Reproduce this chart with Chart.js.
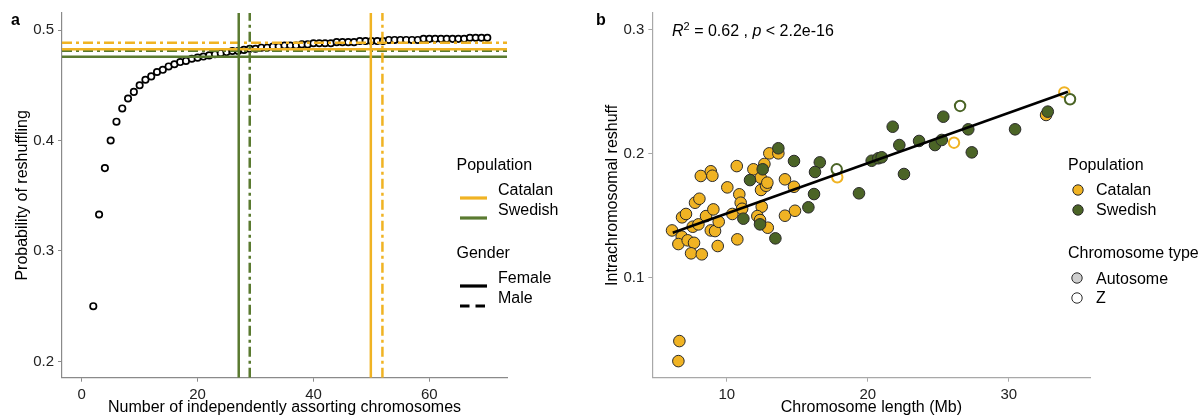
<!DOCTYPE html>
<html>
<head>
<meta charset="utf-8">
<script src="https://cdn.jsdelivr.net/npm/chart.js@4.4.1/dist/chart.umd.min.js"></script>
<style>
  body { margin: 0; background: #fff; font-family: "Liberation Sans", Arial, sans-serif; }
  #wrap { position: relative; width: 1201px; height: 416px; overflow: hidden; }
  canvas { position: absolute; top: 0; }
  .lbl { position: absolute; font-size: 16px; line-height: 20px; color: #000; white-space: nowrap; }
  .tag { font-weight: bold; }
  .key { position: absolute; }
</style>
</head>
<body>
<div id="wrap">
  <canvas id="chartA" width="600" height="416" style="left:0"></canvas>
  <canvas id="chartB" width="601" height="416" style="left:600px"></canvas>
  <div class="lbl tag" style="left:11px;top:10px">a</div>
  <div class="lbl tag" style="left:596px;top:10px">b</div>
  <div class="lbl" style="left:672px;top:21px"><i>R</i><span style="position:relative;top:-6px;font-size:11px">2</span> = 0.62 , <i>p</i> &lt; 2.2e-16</div>
</div>
<script>
// ---- panel a data ----
const chromNum = [2, 3, 4, 5, 6, 7, 8, 9, 10, 11, 12, 13, 14, 15, 16, 17, 18, 19, 20, 21, 22, 23, 24, 25,
  26, 27, 28, 29, 30, 31, 32, 33, 34, 35, 36, 37, 38, 39, 40, 41, 42, 43, 44, 45, 46, 47, 48,
  49, 50, 51, 52, 53, 54, 55, 56, 57, 58, 59, 60, 61, 62, 63, 64, 65, 66, 67, 68, 69, 70];
const reshuffleProb = [0.250, 0.333, 0.375, 0.400, 0.417, 0.429, 0.438, 0.444, 0.450, 0.455, 0.458,
  0.462, 0.464, 0.467, 0.469, 0.471, 0.472, 0.474, 0.475, 0.476, 0.477, 0.478, 0.479, 0.480,
  0.481, 0.481, 0.482, 0.483, 0.483, 0.484, 0.484, 0.485, 0.485, 0.486, 0.486, 0.486, 0.487,
  0.487, 0.488, 0.488, 0.488, 0.488, 0.489, 0.489, 0.489, 0.489, 0.490, 0.490, 0.490, 0.490,
  0.490, 0.491, 0.491, 0.491, 0.491, 0.491, 0.491, 0.492, 0.492, 0.492, 0.492, 0.492, 0.492,
  0.492, 0.492, 0.493, 0.493, 0.493, 0.493];

const populations = ['Catalan', 'Swedish'];
const genders = ['Female', 'Male'];
const effChromFemale = [49.9, 27.1];   // Catalan, Swedish
const effChromMale = [51.9, 29.0];
const probFemale = [0.4825, 0.4758];
const probMale = [0.4885, 0.4813];

const xTicksA = [0, 20, 40, 60];
const yTicksA = [0.2, 0.3, 0.4, 0.5];

// ---- panel b data ----
const catalanLen = [6.12, 6.81, 6.57, 7.23, 7.68, 7.47, 8.23, 6.83, 7.11, 7.75, 8.06, 8.16, 8.87, 8.98,
  7.59, 7.99, 8.53, 9.05, 8.87, 9.17, 9.43, 9.36, 10.04, 10.71, 10.40, 10.75, 10.89, 10.99, 11.09,
  11.89, 12.41, 12.43, 12.67, 12.79, 12.88, 13.02, 13.66, 12.48, 12.17, 12.36, 12.91, 14.13, 14.77,
  14.13, 14.84, 6.64, 6.57, 32.65];
const catalanReshuff = [0.138, 0.133, 0.127, 0.130, 0.128, 0.1195, 0.1187, 0.1486, 0.1513, 0.1604,
  0.1636, 0.182, 0.1858, 0.1822, 0.141, 0.1429, 0.1496, 0.155, 0.138, 0.1375, 0.145, 0.1254, 0.1728,
  0.190, 0.1513, 0.1308, 0.1672, 0.1604, 0.1555, 0.1874, 0.1806, 0.1707, 0.1917, 0.1741, 0.1766,
  0.2003, 0.2003, 0.1572, 0.1496, 0.1464, 0.1402, 0.1793, 0.1733, 0.1499, 0.1539, 0.0486, 0.0324,
  0.2313];
const swedishLen = [13.66, 12.55, 11.65, 11.18, 12.36, 13.45, 14.77, 16.60, 16.26, 16.19, 15.79,
  19.38, 20.28, 20.75, 20.99, 21.77, 22.24, 22.57, 23.64, 24.77, 25.25, 25.36, 27.13, 27.38, 30.45,
  32.77];
const swedishReshuff = [0.2044, 0.1874, 0.1787, 0.1475, 0.1429, 0.1316, 0.1941, 0.193, 0.1852,
  0.1674, 0.1567, 0.168, 0.1943, 0.1963, 0.1971, 0.2218, 0.207, 0.1836, 0.2103, 0.207, 0.2111,
  0.2299, 0.2197, 0.2011, 0.2197, 0.234];
const catalanZLen = [17.84, 26.12, 33.94];
const catalanZReshuff = [0.1809, 0.2089, 0.2496];
const swedishZLen = [17.80, 26.55, 34.35];
const swedishZReshuff = [0.1874, 0.2386, 0.244];
const fitLen = [6.17, 34.2];
const fitReshuff = [0.1361, 0.2501];
const chromTypes = ['Autosome', 'Z'];

const xTicksB = [10, 20, 30];
const yTicksB = [0.1, 0.2, 0.3];

const ORANGE = '#F0B323';
const GREEN_LINE = '#5A7A30';
const GREEN = '#4B6426';
const popLineColors = [ORANGE, GREEN_LINE];
const popFill = [ORANGE, GREEN];

Chart.defaults.font.family = '"Liberation Sans", Arial, sans-serif';
Chart.defaults.color = '#222';

function toPoints(xs, ys) {
  return xs.map((x, i) => ({ x: x, y: ys[i] }));
}

function axis(min, max, ticks, fmt, title, titlePad, fixedSize, isX, lineColor) {
  return {
    type: 'linear',
    min: min,
    max: max,
    afterBuildTicks: s => { s.ticks = ticks.map(v => ({ value: v })); },
    afterFit: s => { if (isX) s.height = fixedSize; else s.width = fixedSize; },
    ticks: { callback: fmt, font: { size: 15 }, padding: 4, maxRotation: 0, autoSkip: false, color: '#222' },
    grid: { drawOnChartArea: false, drawTicks: true, tickLength: 4, color: lineColor },
    border: { display: true, color: lineColor, width: 1.2 },
    title: { display: true, text: title, color: '#000', font: { size: 16, lineHeight: isX ? 1 : 1.2 }, padding: titlePad }
  };
}

const yMinA = 0.1853, yMaxA = 0.5154, xMinA = -3.4, xMaxA = 73.4;

// reference lines for panel a
const refLines = [];
populations.forEach((pop, i) => {
  refLines.push({ type: 'line', data: toPoints([xMinA, xMaxA], [probFemale[i], probFemale[i]]), borderColor: popLineColors[i], borderWidth: 2.5, pointRadius: 0, order: 2 });
  refLines.push({ type: 'line', data: toPoints([xMinA, xMaxA], [probMale[i], probMale[i]]), borderColor: popLineColors[i], borderWidth: 2.5, borderDash: [10, 4, 3, 4], pointRadius: 0, order: 2 });
  refLines.push({ type: 'line', data: toPoints([effChromFemale[i], effChromFemale[i]], [yMinA, yMaxA]), borderColor: popLineColors[i], borderWidth: 2.5, pointRadius: 0, order: 1 });
  refLines.push({ type: 'line', data: toPoints([effChromMale[i], effChromMale[i]], [yMinA, yMaxA]), borderColor: popLineColors[i], borderWidth: 2.5, borderDash: [10, 4, 3, 4], pointRadius: 0, order: 1 });
});

new Chart(document.getElementById('chartA'), {
  type: 'scatter',
  data: {
    datasets: [{
      data: toPoints(chromNum, reshuffleProb),
      pointRadius: 3.2,
      borderWidth: 1.7,
      borderColor: '#000',
      backgroundColor: '#fff',
      order: 3
    }].concat(refLines)
  },
  options: {
    responsive: false,
    animation: false,
    layout: { padding: { top: 13, right: 93, left: 0, bottom: 0 } },
    plugins: { legend: { display: false }, tooltip: { enabled: false } },
    scales: {
      x: axis(xMinA, xMaxA, xTicksA, v => String(v), 'Number of independently assorting chromosomes', { top: 0, bottom: 0 }, 38.3, true, '#8a8a8a'),
      y: axis(yMinA, yMaxA, yTicksA, v => v.toFixed(1), 'Probability of reshuffling', { top: 12.5, bottom: 0 }, 62, false, '#8a8a8a')
    }
  }
});

new Chart(document.getElementById('chartB'), {
  type: 'scatter',
  data: {
    datasets: [
      { data: toPoints(fitLen, fitReshuff), type: 'line', borderColor: '#000', borderWidth: 2.5, pointRadius: 0, order: 0 },
      { data: toPoints(swedishZLen, swedishZReshuff), pointRadius: 5.2, borderWidth: 2, borderColor: GREEN, backgroundColor: '#fff', order: 1 },
      { data: toPoints(catalanZLen, catalanZReshuff), pointRadius: 5.2, borderWidth: 2, borderColor: ORANGE, backgroundColor: '#fff', order: 2 },
      { data: toPoints(swedishLen, swedishReshuff), pointRadius: 5.8, borderWidth: 1, borderColor: '#2a2a2a', backgroundColor: GREEN, order: 3 },
      { data: toPoints(catalanLen, catalanReshuff), pointRadius: 5.8, borderWidth: 1, borderColor: '#2a2a2a', backgroundColor: ORANGE, order: 4 }
    ]
  },
  options: {
    responsive: false,
    animation: false,
    layout: { padding: { top: 13, right: 110.5, left: 0, bottom: 0 } },
    plugins: { legend: { display: false }, tooltip: { enabled: false } },
    scales: {
      x: axis(4.72, 35.8, xTicksB, v => String(v), 'Chromosome length (Mb)', { top: 0, bottom: 0 }, 38.3, true, '#a8a8a8'),
      y: axis(0.019, 0.3137, yTicksB, v => v.toFixed(1), 'Intrachromosomal reshuff', { top: 3, bottom: 0 }, 52.3, false, '#a8a8a8')
    }
  }
});

// ---- legends (html) ----
const wrap = document.getElementById('wrap');

function addText(text, left, centerY) {
  const d = document.createElement('div');
  d.className = 'lbl';
  d.style.left = left + 'px';
  d.style.top = (centerY - 10) + 'px';
  d.textContent = text;
  wrap.appendChild(d);
}

function addKey(svgInner, left, centerY, w, h) {
  const d = document.createElement('div');
  d.className = 'key';
  d.style.left = left + 'px';
  d.style.top = (centerY - h / 2) + 'px';
  d.innerHTML = '<svg width="' + w + '" height="' + h + '">' + svgInner + '</svg>';
  wrap.appendChild(d);
}

function lineKey(color, dash) {
  return '<line x1="0" y1="3" x2="27" y2="3" stroke="' + color + '" stroke-width="3.2"' +
    (dash ? ' stroke-dasharray="' + dash + '"' : '') + '/>';
}

function circleKey(fill, stroke) {
  return '<circle cx="7" cy="7" r="5.2" fill="' + fill + '" stroke="' + stroke + '" stroke-width="1"/>';
}

// panel a legend
addText('Population', 456.5, 165);
populations.forEach((p, i) => {
  addKey(lineKey(popLineColors[i], null), 460, 190 + i * 20, 28, 6);
  addText(p, 498, 189.5 + i * 20);
});
addText('Gender', 456.5, 252.5);
genders.forEach((g, i) => {
  addKey(lineKey('#000', i === 0 ? null : '9.5,6'), 460, 277.5 + i * 20, 28, 6);
  addText(g, 498, 278 + i * 20);
});

// panel b legend
addText('Population', 1068, 164.5);
populations.forEach((p, i) => {
  addKey(circleKey(popFill[i], '#2a2a2a'), 1071, 189.5 + i * 20, 14, 14);
  addText(p, 1096, 189.5 + i * 20);
});
addText('Chromosome type', 1068, 253);
chromTypes.forEach((c, i) => {
  addKey(circleKey(i === 0 ? '#cfcfcf' : '#fff', '#2a2a2a'), 1070, 278 + i * 19.5, 14, 14);
  addText(c, 1096, 279 + i * 19);
});
</script>
</body>
</html>
